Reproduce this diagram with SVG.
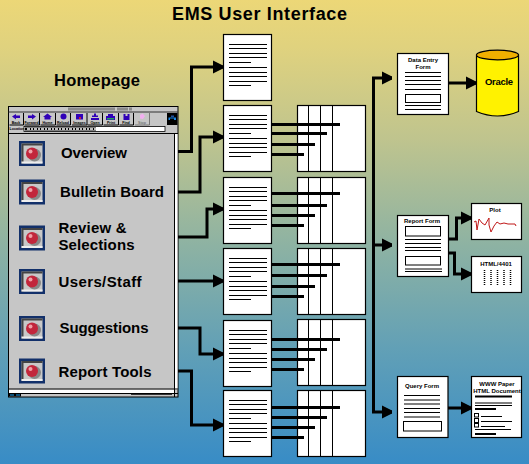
<svg xmlns="http://www.w3.org/2000/svg" xmlns:xlink="http://www.w3.org/1999/xlink" width="529" height="464" viewBox="0 0 529 464">
<style>
text{font-family:"Liberation Sans",Arial,sans-serif;font-weight:bold;fill:#000}
.box{fill:#fff;stroke:#000;stroke-width:1.2}
.ln{stroke:#000;stroke-width:1;fill:none}
.bar{stroke:#000;stroke-width:3;fill:none}
.wire{stroke:#000;stroke-width:3;fill:none}
.nav{font-size:15px}
.tiny{font-size:6px;text-anchor:middle}
.btn{font-size:3.6px;text-anchor:middle}
.ic{fill:#3000b8}
</style>
<defs>
<linearGradient id="bg" x1="0" y1="0" x2="0" y2="1">
<stop offset="0" stop-color="#ecd777"/>
<stop offset="0.1" stop-color="#e0d27e"/>
<stop offset="0.3" stop-color="#bfc48e"/>
<stop offset="0.52" stop-color="#8fb3a2"/>
<stop offset="0.75" stop-color="#62a0b6"/>
<stop offset="1" stop-color="#388cc6"/>
</linearGradient>
<marker id="arr" markerUnits="userSpaceOnUse" markerWidth="11" markerHeight="14" refX="10" refY="7" orient="auto"><path d="M0 0.5L3 2L10 5.5V8.5L3 12L0 13.5Z" fill="#000"/></marker>
<g id="doc">
<rect class="box" x="223.5" y="0.5" width="48" height="66"/>
<path class="ln" d="M229 10.5H267M229 14.5H267M229 19.5H267M229 23.5H267M229 28.5H251M229 33.5H267M229 38.5H267M229 42.5H267M229 47.5H267M229 51.5H251"/>
</g>
<g id="tbl">
<rect class="box" x="297.5" y="0.5" width="68" height="66"/>
<path class="ln" d="M308.5 0.5V66M320.5 0.5V66M332.5 0.5V66"/>
</g>
<g id="bullet">
<rect x="19" y="0" width="26" height="25" fill="#12306a"/>
<rect x="21.5" y="2.5" width="21" height="20" fill="#c8c8c8"/>
<path d="M21.5 2.5H42.5V4.5H23.5V22.5H21.5Z" fill="#444"/>
<path d="M21.5 22.5H42.5V20.5H21.5Z" fill="#eee"/>
<circle cx="34.5" cy="14" r="6.5" fill="#888"/>
<circle cx="32" cy="12.5" r="6" fill="#c2263c"/>
<circle cx="30.5" cy="10.5" r="2" fill="#f0a0a8"/>
</g>
</defs>
<rect width="529" height="464" fill="url(#bg)"/>
<text x="172" y="20" font-size="18" textLength="175" lengthAdjust="spacing">EMS User Interface</text>
<text x="54" y="86" font-size="16.5" textLength="86" lengthAdjust="spacing">Homepage</text>
<g id="connectors">
<path class="wire" marker-end="url(#arr)" d="M178 151.5H191.5V67H223"/>
<path class="wire" marker-end="url(#arr)" d="M178 192H200V137H223"/>
<path class="wire" marker-end="url(#arr)" d="M178 237H207V209H223"/>
<path class="wire" marker-end="url(#arr)" d="M178 281H223"/>
<path class="wire" marker-end="url(#arr)" d="M178 328H200V354H223"/>
<path class="wire" marker-end="url(#arr)" d="M178 371H191.5V425H223"/>
<path class="wire" d="M373.5 78V412"/>
<path class="wire" marker-end="url(#arr)" d="M372 78H392"/>
<path class="wire" marker-end="url(#arr)" d="M373.5 245H392"/>
<path class="wire" marker-end="url(#arr)" d="M372 412H392"/>
<path class="wire" marker-end="url(#arr)" d="M449 83H476"/>
<path class="wire" marker-end="url(#arr)" d="M449 239H456.5V218H471"/>
<path class="wire" marker-end="url(#arr)" d="M449 253H454.5V274H471"/>
<path class="wire" marker-end="url(#arr)" d="M448 408H471"/>
</g>
<g id="homepage-window">
<rect x="8.5" y="106.5" width="169.5" height="290.5" fill="#c6c6c6" stroke="#000" stroke-width="1"/>
<rect x="68" y="107.5" width="47" height="3" fill="#8a8a8a"/><rect x="117" y="107.5" width="11" height="3" fill="#8a8a8a"/><rect x="129" y="107.5" width="3" height="3" fill="#8a8a8a"/>
<path d="M8.5 112H178" stroke="#333" stroke-width="1"/>
<g id="toolbar">
<path class="ln" d="M23.5 113V125H9.5M39.5 113V125H24.5M55.5 113V125H40.5M70.5 113V125H56.5M87 113V125H72M102.5 113V125H87.5M118.5 113V125H103.5M133.5 113V125H119.5"/>
<path d="M149.5 113V125H135" fill="none" stroke="#777" stroke-width="1"/>
<path class="ic" d="M12 116.5L16 114V115.5H20V118H16V119.5Z"/>
<path class="ic" d="M36 116.5L32 114V115.5H28V118H32V119.5Z"/>
<path class="ic" d="M47.5 113.5L52 117H50.5V119.5H44.5V117H43Z"/>
<circle class="ic" cx="63.5" cy="116.5" r="3"/>
<rect class="ic" x="76" y="114" width="7" height="5.5"/><rect x="79" y="117" width="2" height="2" fill="#c02040"/>
<path class="ic" d="M94 113.5H96V115.5H98V117H92V115.5H94ZM91 118H99V120H91Z"/>
<path class="ic" d="M108 114H113V116H115V120H106V116H108Z"/><rect x="107" y="118" width="7" height="1.5" fill="#20a060"/>
<path class="ic" d="M123.5 114H125.5V116H127.5V114H129.5V120H123.5Z"/>
<path d="M140 115L142.5 113.5L145 116L143 119L140 118.5Z" fill="#f2b0f0"/>
<text class="btn" x="16" y="124">Back</text>
<text class="btn" x="31.5" y="124">Forward</text>
<text class="btn" x="47.5" y="124">Home</text>
<text class="btn" x="63" y="124">Reload</text>
<text class="btn" x="79.5" y="124">Images</text>
<text class="btn" x="95" y="124">Open</text>
<text class="btn" x="111" y="124">Print</text>
<text class="btn" x="126" y="124">Find</text>
<text class="btn" x="142" y="124" style="fill:#777">Stop</text>
<rect x="167" y="113" width="10.5" height="12" fill="#000"/>
<path d="M168.5 117.5H176V120H174V118.5H170V120H168.5Z" fill="#1888e8"/>
<rect x="171" y="115.5" width="3" height="1.5" fill="#2050a0"/>
</g>
<text x="9.5" y="130" font-size="3.6">Location:</text>
<rect x="24" y="126.5" width="141" height="5" fill="#fff" stroke="#000" stroke-width="0.8"/>
<path d="M25 129H96" stroke="#000" stroke-width="3"/>
<path d="M27 129H96" stroke="#fff" stroke-width="1.4" stroke-dasharray="3 1 2 1"/>
<path d="M8.5 133.5H178" stroke="#000" stroke-width="1.2"/>
<rect x="174.5" y="134" width="3" height="256" fill="#fff"/>
<path d="M174.5 134V397" stroke="#000" stroke-width="1"/>
<rect x="9" y="389.5" width="165" height="3.5" fill="#fff"/>
<path d="M8.5 389H178M8.5 393.5H178" stroke="#000" stroke-width="1"/>
<path d="M131 394.5H172" stroke="#333" stroke-width="1"/>
<rect x="9" y="394" width="12" height="2.5" fill="#000"/><path d="M10 395H14M16 395H20" stroke="#18a0f0" stroke-width="1"/>
</g>
<g id="nav-overview"><use href="#bullet" y="141"/><text class="nav" x="61" y="158" textLength="66" lengthAdjust="spacing">Overview</text></g>
<g id="nav-bulletin"><use href="#bullet" y="179.5"/><text class="nav" x="60" y="197" textLength="104" lengthAdjust="spacing">Bulletin Board</text></g>
<g id="nav-review"><use href="#bullet" y="225.5"/><text class="nav" x="58.5" y="233" textLength="68" lengthAdjust="spacing">Review &amp;</text><text class="nav" x="58.5" y="249.5" textLength="76" lengthAdjust="spacing">Selections</text></g>
<g id="nav-users"><use href="#bullet" y="269"/><text class="nav" x="58.5" y="287" textLength="83" lengthAdjust="spacing">Users/Staff</text></g>
<g id="nav-suggestions"><use href="#bullet" y="316"/><text class="nav" x="59.5" y="333" textLength="89" lengthAdjust="spacing">Suggestions</text></g>
<g id="nav-report"><use href="#bullet" y="358.5"/><text class="nav" x="58.5" y="377" textLength="93" lengthAdjust="spacing">Report Tools</text></g>
<g id="page-1"><use href="#doc" y="34"/></g>
<g id="page-2"><use href="#tbl" y="105"/><use href="#doc" y="105"/><path class="bar" d="M272 124.5H340M272 133.5H327M272 144.5H315M272 154.5H304"/></g>
<g id="page-3"><use href="#tbl" y="177"/><use href="#doc" y="177"/><path class="bar" d="M272 193.5H340M272 205.5H327M272 215.5H315M272 225.5H304"/></g>
<g id="page-4"><use href="#tbl" y="248"/><use href="#doc" y="248"/><path class="bar" d="M272 264.5H340M272 275.5H327M272 286.5H315M272 296.5H304"/></g>
<g id="page-5"><use href="#tbl" y="319"/><use href="#doc" y="320"/><path class="bar" d="M272 339.5H340M272 349.5H327M272 359.5H315M272 369.5H304"/></g>
<g id="page-6"><use href="#tbl" y="390"/><use href="#doc" y="390"/><path class="bar" d="M272 407.5H340M272 417.5H327M272 427.5H315M272 437.5H304"/></g>
<g id="data-entry-form">
<rect class="box" x="397.5" y="53.5" width="51" height="61"/>
<text class="tiny" x="423" y="61.5">Data Entry</text><text class="tiny" x="423" y="68.5">Form</text>
<path class="ln" d="M405 72.5H441M405 76.5H441M405 80.5H441M405 84.5H441M405 89.5H441M405 105.5H441M405 109.5H441"/>
<rect x="405.5" y="94.5" width="35" height="8" fill="#fff" stroke="#000"/>
</g>
<g id="oracle">
<path d="M476.5 55V111.5Q497.5 120.5 518.5 111.5V55Z" fill="#fff200" stroke="#000" stroke-width="1.2"/>
<ellipse cx="497.5" cy="55" rx="21" ry="4.8" fill="#f0b000" stroke="#000" stroke-width="1.2"/>
<text x="485" y="85" font-size="9.5" textLength="28" lengthAdjust="spacing">Oracle</text>
</g>
<g id="report-form">
<rect class="box" x="397.5" y="215.5" width="51" height="61"/>
<text class="tiny" x="422" y="223">Report Form</text>
<rect x="405.5" y="226.5" width="35" height="9.5" fill="#fff" stroke="#000"/>
<rect x="405.5" y="256.5" width="35" height="8.5" fill="#fff" stroke="#000"/>
<path class="ln" d="M405 239.5H441M405 243.5H441M405 247.5H441M405 250.5H441M405 269H442M405 271.5H442"/>
</g>
<g id="plot">
<rect class="box" x="471.5" y="203.5" width="50" height="36"/>
<text class="tiny" x="495" y="212">Plot</text>
<path d="M474 222L476 221L477 230L479 219L482 223L485 225L489 218L489 225L491 232L494 226L497 222L500 224L504 223L508 224L515 224L516 226" fill="none" stroke="#c01818" stroke-width="1"/>
</g>
<g id="html-4401">
<rect class="box" x="471.5" y="256.5" width="50" height="36"/>
<text class="tiny" x="496" y="266">HTML/4401</text>
<path d="M484.5 270V285M491 270V285M497.5 270V285M504 270V285M510.5 270V285" stroke="#000" stroke-width="1.5" stroke-dasharray="1 1" fill="none"/>
</g>
<g id="query-form">
<rect class="box" x="397.5" y="376.5" width="50.5" height="61"/>
<text class="tiny" x="422" y="388">Query Form</text>
<path class="ln" d="M404 395.5H440M404 400H440M404 404H440M404 408.5H440M404 412.5H440M404 417H440"/>
<rect x="403.5" y="421.5" width="38" height="9.5" fill="#fff" stroke="#000"/>
</g>
<g id="www-paper">
<rect class="box" x="471.5" y="376.5" width="50" height="61"/>
<text class="tiny" x="497" y="385.5">WWW Paper</text><text class="tiny" x="497" y="392.5">HTML Document</text>
<path d="M475 396.5H512M475 409H496M475 434H496" stroke="#000" stroke-width="2"/>
<path class="ln" d="M475 403H512M475 405.5H512M481 416.5H502M481 421.5H512M481 426.5H505M475 429.5H511"/>
<rect x="474.5" y="413.5" width="4" height="3.5" fill="#fff" stroke="#000"/>
<rect x="474.5" y="418.5" width="4" height="4" fill="#fff" stroke="#000"/>
<rect x="474.5" y="423.5" width="4" height="3.5" fill="#fff" stroke="#000"/>
</g>
</svg>
